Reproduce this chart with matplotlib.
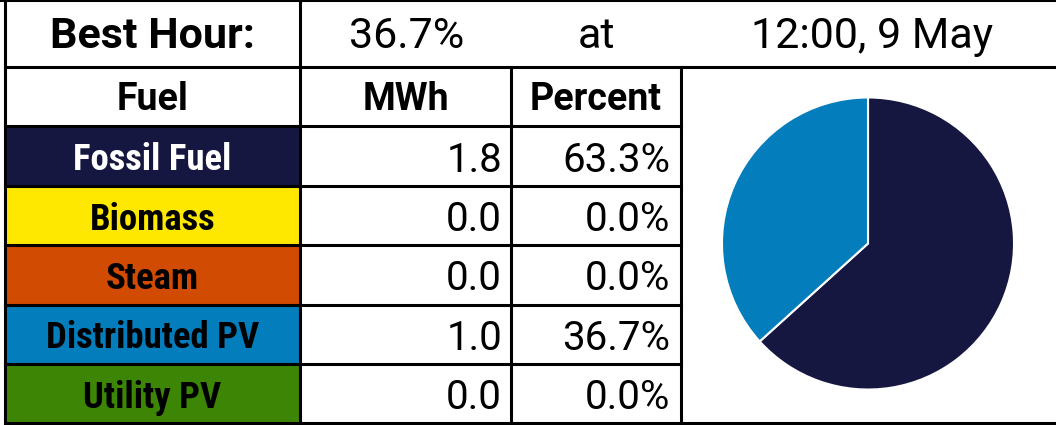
# Best hour fuel mix: table + pie
import matplotlib
matplotlib.use("Agg")
import matplotlib.pyplot as plt
from matplotlib.patches import Rectangle

best_pct = "36.7%"
best_time = "12:00, 9 May"

fuels = ["Fossil Fuel", "Biomass", "Steam", "Distributed PV", "Utility PV"]
mwh = [1.8, 0.0, 0.0, 1.0, 0.0]
percent = [63.3, 0.0, 0.0, 36.7, 0.0]
fuel_colors = ["#161741", "#FFE800", "#D24B02", "#047DBC", "#3C8505"]
text_colors = ["white", "black", "black", "black", "black"]

W, H = 1056, 425
col_x = [5, 300, 511, 681, 1056]
row_y = [0, 67, 126, 186, 245, 305, 364, 423]

fam = ["Roboto", "DejaVu Sans"]
narrow = ["Roboto Condensed", "Roboto", "DejaVu Sans"]

fig = plt.figure(figsize=(W / 100, H / 100), dpi=100)
ax = fig.add_axes([0, 0, 1, 1])
ax.set_xlim(0, W)
ax.set_ylim(H, 0)
ax.axis("off")

# colored fuel cells
for i, fuel in enumerate(fuels):
    y0, y1 = row_y[i + 2], row_y[i + 3]
    ax.add_patch(Rectangle((col_x[0], y0), col_x[1] - col_x[0], y1 - y0,
                           facecolor=fuel_colors[i], edgecolor="none"))
    yc = (y0 + y1) / 2
    ax.text((col_x[0] + col_x[1]) / 2, yc, fuel, ha="center", va="center_baseline",
            fontsize=26.5, fontweight="bold", color=text_colors[i], family=narrow)
    ax.text(col_x[2] - 9, yc, "%.1f" % mwh[i], ha="right", va="center_baseline",
            fontsize=29, family=fam)
    ax.text(col_x[3] - 11, yc, "%.1f%%" % percent[i], ha="right", va="center_baseline",
            fontsize=29, family=fam)

# top row
ytop = (row_y[0] + row_y[1]) / 2 - 2
ax.text((col_x[0] + col_x[1]) / 2, ytop, "Best Hour:", ha="center", va="center_baseline",
        fontsize=31, fontweight="bold", family=fam)
ax.text(407, ytop, best_pct, ha="center", va="center_baseline",
        fontsize=31, family=fam)
ax.text(597, ytop, "at", ha="center", va="center_baseline",
        fontsize=31, family=fam)
ax.text(872, ytop, best_time, ha="center", va="center_baseline",
        fontsize=31, family=fam)

# header row
yh = (row_y[1] + row_y[2]) / 2 - 1
for j, h in enumerate(["Fuel", "MWh", "Percent"]):
    ax.text((col_x[j] + col_x[j + 1]) / 2, yh, h, ha="center", va="center_baseline",
            fontsize=27, fontweight="bold", family=fam)

# grid lines
lw = 2.2
ax.plot([0, W], [row_y[0] + 0.5, row_y[0] + 0.5], color="black", lw=1.5)
ax.plot([col_x[0], W], [row_y[1], row_y[1]], color="black", lw=lw)
ax.plot([col_x[0], W], [row_y[-1], row_y[-1]], color="black", lw=lw)
for y in row_y[2:-1]:
    ax.plot([col_x[0], col_x[3]], [y, y], color="black", lw=lw)
ax.plot([col_x[0], col_x[0]], [row_y[0], row_y[-1]], color="black", lw=lw)
ax.plot([col_x[1], col_x[1]], [row_y[0], row_y[-1]], color="black", lw=lw)
for x in col_x[2:4]:
    ax.plot([x, x], [row_y[1], row_y[-1]], color="black", lw=lw)

# pie
cx, cy, r = 868, 243.5, 147.5
pax = fig.add_axes([(cx - r) / W, (H - cy - r) / H, 2 * r / W, 2 * r / H])
vals = [p for p in percent if p > 0]
cols = [c for p, c in zip(percent, fuel_colors) if p > 0]
pax.pie(vals, colors=cols, startangle=90, counterclock=False, radius=1,
        wedgeprops=dict(edgecolor="white", linewidth=1.5))
pax.set_xlim(-1.01, 1.01)
pax.set_ylim(-1.01, 1.01)
pax.set_aspect("equal")
pax.axis("off")

fig.savefig("out.png", dpi=100)
